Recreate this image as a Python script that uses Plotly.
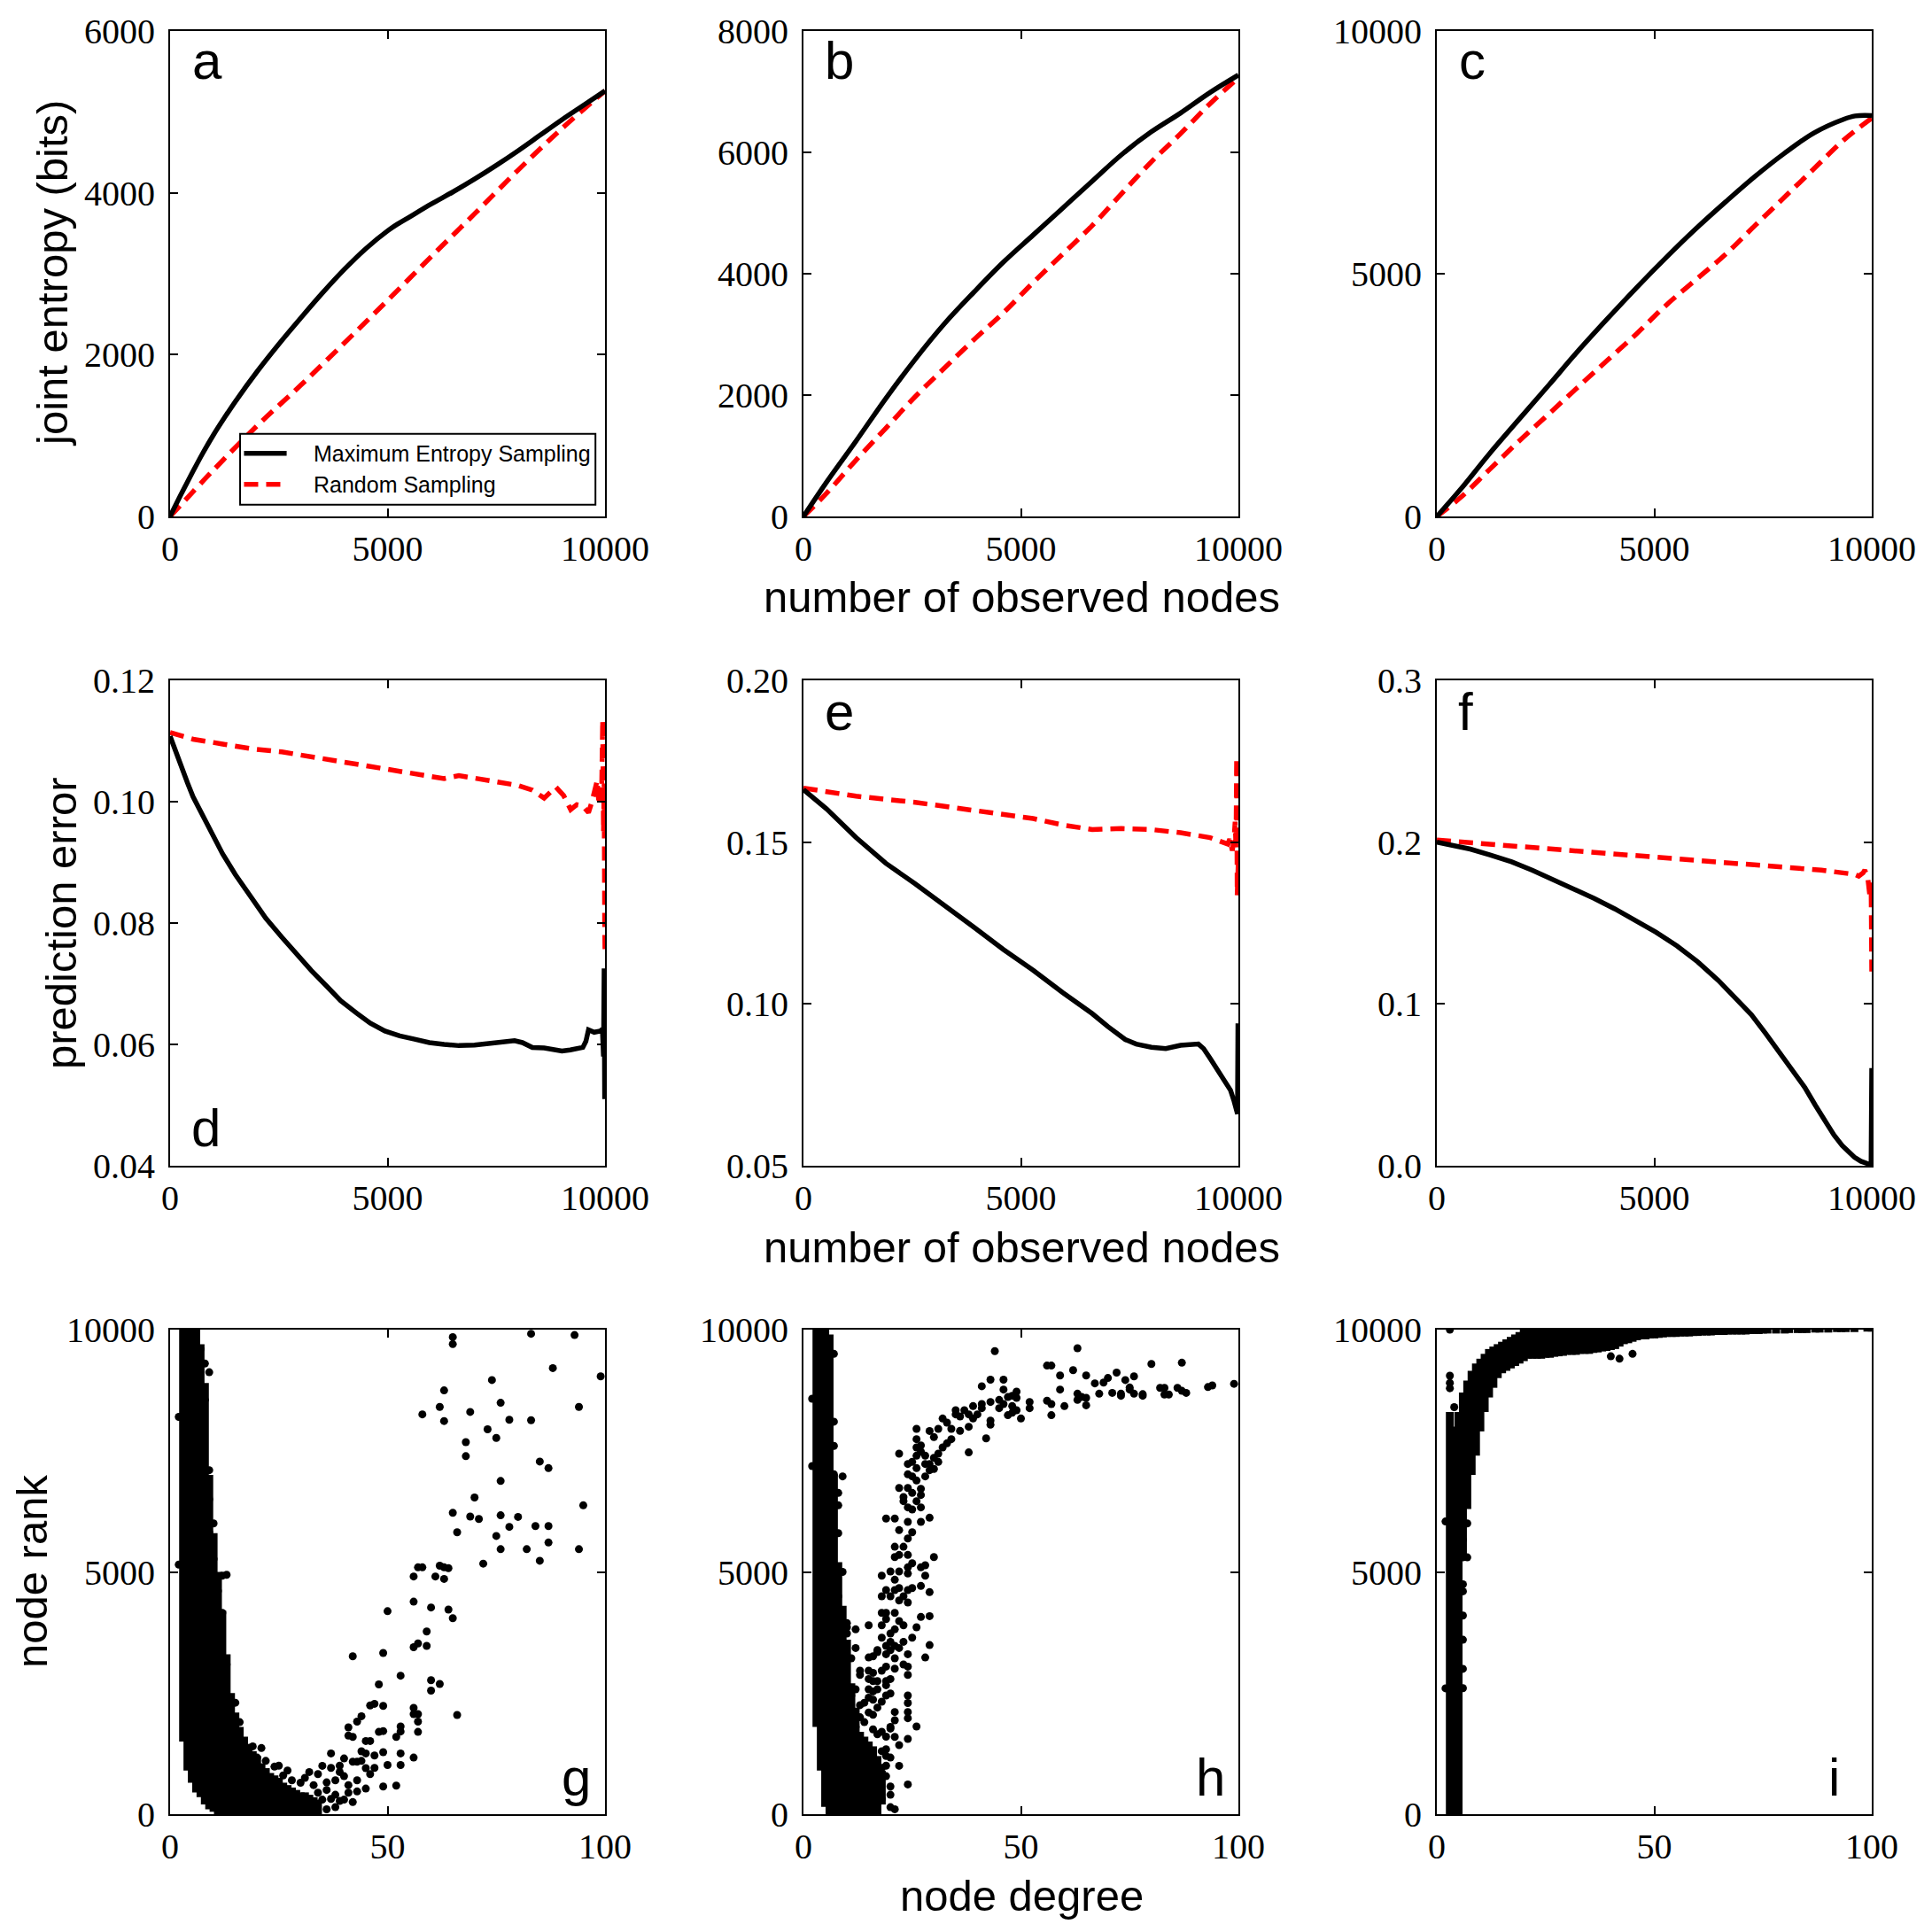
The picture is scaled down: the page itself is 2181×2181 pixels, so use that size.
import plotly.graph_objects as go

W = H = 2181

# ---------------- Panel a-c : joint entropy ----------------
a_max_x = [0, 250, 500, 750, 1000, 1250, 1500, 2000, 2500, 3000, 3500, 4000, 4500, 5000, 5250, 5500, 6000, 6500, 7000, 7500, 8000, 8500, 9000, 9500, 10000]
a_max_y = [0, 270, 530, 780, 1010, 1220, 1420, 1790, 2130, 2450, 2760, 3050, 3310, 3530, 3620, 3700, 3860, 4010, 4170, 4340, 4520, 4710, 4900, 5080, 5260]
a_rnd_x = [0, 1000, 2000, 3000, 4000, 5000, 6000, 7000, 8000, 9000, 10000]
a_rnd_y = [0, 575, 1120, 1620, 2140, 2670, 3210, 3740, 4280, 4790, 5260]

b_max_x = [0, 530, 1210, 1890, 2570, 3240, 3920, 4600, 5280, 5960, 6640, 7310, 7990, 8670, 9350, 10000]
b_max_y = [0, 564, 1243, 1940, 2590, 3175, 3697, 4193, 4637, 5081, 5525, 5960, 6334, 6648, 6987, 7274]
b_rnd_x = [0, 530, 1210, 1890, 2570, 3240, 3920, 4600, 5280, 5960, 6640, 7310, 7990, 8670, 9350, 10000]
b_rnd_y = [0, 381, 930, 1452, 1974, 2444, 2914, 3358, 3854, 4324, 4794, 5316, 5838, 6308, 6804, 7230]

c_max_x = [0, 530, 1210, 1890, 2570, 3240, 3920, 4600, 5280, 5960, 6640, 7310, 7990, 8670, 9350, 9620, 10000]
c_max_y = [0, 541, 1292, 2000, 2700, 3400, 4070, 4720, 5340, 5930, 6480, 7000, 7480, 7900, 8180, 8250, 8258]
c_rnd_x = [0, 530, 1210, 1890, 2570, 3240, 3920, 4600, 5280, 5960, 6640, 7310, 7990, 8670, 9350, 10000]
c_rnd_y = [0, 378, 965, 1552, 2107, 2661, 3216, 3770, 4358, 4879, 5401, 5988, 6575, 7162, 7749, 8206]

# ---------------- Panel d-f : prediction error ----------------
d_max_x = [0, 100, 258, 400, 529, 700, 868, 1000, 1208, 1500, 1886, 2200, 2565, 2900, 3243, 3600, 3922, 4300, 4600, 4940, 5280,
           5600, 5960, 6300, 6640, 7000, 7310, 7600, 7920, 8100, 8330, 8600, 9010, 9200, 9490, 9560, 9620, 9750, 9890, 9940, 9965, 9980, 9992, 10000]
d_max_y = [0.1108, 0.1088, 0.1056, 0.1031, 0.1008, 0.0984, 0.0961, 0.0942, 0.0914, 0.0880, 0.0840, 0.0808, 0.0777, 0.0749, 0.0722, 0.0696, 0.0672, 0.0651, 0.0635, 0.0622, 0.0614,
           0.0609, 0.0603, 0.0600, 0.0598, 0.0599, 0.0602, 0.0604, 0.0606, 0.0603, 0.0595, 0.0594, 0.0589, 0.0591, 0.0595, 0.0605, 0.0624, 0.0620, 0.0622, 0.0625, 0.0580, 0.0725, 0.0510, 0.0520]
d_rnd_x = [0, 530, 1210, 1890, 2570, 3240, 3920, 4600, 5280, 5960, 6300, 6640, 7310, 7990, 8330, 8600, 8870, 9050, 9210, 9350, 9490, 9620, 9700, 9820, 9860, 9890, 9920, 9946, 9965, 9980, 9992, 10000]
d_rnd_y = [0.1114, 0.1103, 0.1095, 0.1087, 0.1082, 0.1074, 0.1067, 0.1058, 0.1051, 0.1043, 0.1038, 0.1043, 0.1035, 0.1027, 0.1019, 0.1006, 0.1024, 0.1010, 0.0987, 0.0995, 0.0993, 0.0982, 0.1000, 0.1035, 0.0995, 0.1025, 0.1003, 0.1135, 0.0950, 0.1030, 0.0800, 0.0750]

e_max_x = [0, 530, 1210, 1890, 2570, 3240, 3920, 4600, 5280, 5960, 6640, 7000, 7180, 7400, 7650, 8000, 8330, 8670, 9080, 9200, 9350, 9480, 9620, 9820, 9900, 9960, 9980, 9990, 10000]
e_max_y = [0.1662, 0.1603, 0.1514, 0.1435, 0.1371, 0.1306, 0.1237, 0.1168, 0.1104, 0.1035, 0.0970, 0.0930, 0.0911, 0.0890, 0.0876, 0.0866, 0.0862, 0.0872, 0.0876, 0.0862, 0.0832, 0.0805, 0.0773, 0.0733, 0.0700, 0.0664, 0.0660, 0.0940, 0.0680]
e_rnd_x = [0, 1210, 2570, 3920, 5280, 5960, 6640, 7310, 7990, 8670, 9350, 9760, 9800, 9860, 9900, 9925, 9945, 9960, 9973, 10000]
e_rnd_y = [0.1667, 0.1642, 0.1623, 0.1598, 0.1573, 0.1553, 0.1539, 0.1542, 0.1539, 0.1529, 0.1514, 0.1494, 0.1510, 0.1474, 0.1510, 0.1563, 0.1480, 0.1761, 0.1336, 0.1450]

f_max_x = [0, 400, 770, 1240, 1720, 2200, 2670, 3140, 3620, 4090, 4570, 5040, 5520, 6000, 6470, 6850, 7230, 7560, 7890, 8180, 8460, 8700, 8940,
           9130, 9320, 9460, 9600, 9750, 9890, 9962, 9985, 10000]
f_max_y = [0.2000, 0.1980, 0.1957, 0.1920, 0.1878, 0.1826, 0.1771, 0.1712, 0.1652, 0.1588, 0.1519, 0.1443, 0.1359, 0.1260, 0.1146, 0.1045, 0.0934, 0.0818, 0.0697, 0.0590, 0.0484, 0.0375, 0.0271,
           0.0190, 0.0125, 0.0085, 0.0053, 0.0028, 0.0011, 0.0000, 0.0005, 0.0604]
f_rnd_x = [0, 1240, 3140, 5040, 6940, 8840, 9600, 9700, 9800, 9840, 9880, 9905, 9962, 9985, 10000]
f_rnd_y = [0.2013, 0.1987, 0.1947, 0.1907, 0.1867, 0.1827, 0.1801, 0.1790, 0.1810, 0.1827, 0.1800, 0.1787, 0.1654, 0.1750, 0.1200]

# ---------------- Panel g-i : node rank vs node degree ----------------
# dense parts: for each degree, the range of ranks densely covered by points
g_col_deg = [3, 4, 5, 6, 7, 8, 9, 10, 11, 12, 13, 14, 15, 16, 17, 18, 19, 20, 21, 22, 23, 24, 25, 26, 27, 28, 29, 30, 31, 32, 33, 34]
g_col_lo = [1500, 900, 650, 450, 350, 200, 100, 50, 0, 0, 0, 0, 0, 0, 0, 0, 0, 0, 0, 0, 0, 0, 0, 0, 0, 0, 0, 0, 0, 0, 0, 0]
g_col_hi = [10000, 10000, 10000, 10000, 9700, 8900, 7000, 5800, 5000, 4200, 3300, 2500, 2100, 1800, 1600, 1450, 1300, 1200, 1050, 950, 850, 800, 750, 650, 600, 550, 500, 450, 450, 400, 350, 300]
g_pt_deg = [65, 65, 83, 93, 88, 99, 74, 63, 62, 94, 76, 58, 69, 63, 78, 83, 73, 75, 68, 68, 85, 87, 76, 70, 95, 65, 69, 71, 76, 80,
            66, 78, 84, 87, 75, 76, 82, 87, 94, 85, 72, 57, 58, 62, 63, 64, 56, 61, 63, 56, 50, 60, 64, 65, 59, 56, 57, 59, 49, 42,
            53, 60, 62, 60, 48, 66, 46, 47, 49, 56, 56, 57, 57, 44, 43, 41, 42, 41, 53, 53, 52, 57, 48, 49, 46, 45, 44, 45, 47, 49,
            53, 56, 50, 53, 46, 47, 49, 52, 45, 41, 43, 43, 42, 43, 37, 35, 37, 39, 40, 38, 38, 39, 37, 36, 34, 32, 34, 24, 21, 17,
            18, 14, 13, 12, 13, 12, 11, 9, 8, 7, 9, 9, 9, 2, 2, 10, 11, 20, 40, 44, 45, 38, 36, 41, 39, 35, 33, 40, 42, 36,
            30, 28, 26, 31, 33, 27, 22, 25, 19, 16, 15, 10, 8, 7]
g_pt_rank = [9846, 9701, 9915, 9889, 9206, 9036, 8959, 8746, 8404, 8404, 8490, 8251, 8302, 8114, 8140, 8131, 7944, 7765, 7679, 7389, 7278, 7142, 6877, 6536, 6374, 6220, 6143, 6092, 6169, 6135,
             5819, 5930, 5947, 5947, 5742, 5469, 5469, 5606, 5469, 5230, 5171, 5094, 5094, 5128, 5094, 5077, 4906, 4906, 4855, 4386, 4189, 4266, 4224, 4044, 3771, 3447, 3524, 3473, 3328, 3259,
             2858, 2765, 2688, 2551, 2679, 2048, 2244, 2278, 2235, 2193, 2065, 2065, 1911, 2022, 1911, 1792, 1596, 1621, 1809, 1706, 1596, 1698, 1698, 1715, 1510, 1510, 1297, 1254, 1212, 1280,
             1254, 1169, 1015, 1015, 828, 956, 572, 589, 529, 444, 469, 700, 1084, 1084, 1254, 998, 956, 870, 785, 401, 145, 273, 316, 657, 828, 870, 444, 981, 1365, 1510,
             1254, 1937, 3089, 4923, 4940, 4155, 4608, 9121, 8550, 8420, 7100, 6500, 5820, 8200, 5150, 5265, 2278, 1169, 1150, 1100, 950, 700, 500, 600, 1000, 300, 200, 300, 250, 100,
             650, 700, 800, 750, 600, 900, 1100, 1000, 1400, 1900, 2300, 6000, 9300, 9600]

h_col_deg = [3, 4, 5, 6, 7, 8, 9, 10, 11, 12, 13, 14, 15, 16, 17, 18]
h_col_lo = [1800, 900, 150, 0, 0, 0, 0, 0, 0, 0, 0, 0, 0, 0, 0, 200]
h_col_hi = [10000, 10000, 10000, 9900, 7000, 5200, 4300, 3600, 2700, 2200, 1700, 1600, 1500, 1400, 1200, 900]
h_pt_deg = [44, 63, 87, 80, 57, 56, 62, 65, 72, 76, 59, 46, 43, 41, 74, 70, 67, 69, 99, 94, 93, 82, 83, 86, 87, 88, 78, 76, 73, 71,
            68, 59, 56, 57, 63, 63, 64, 65, 65, 60, 83, 84, 78, 75, 73, 75, 52, 52, 48, 49, 48, 46, 47, 45, 45, 43, 41, 41, 46, 49,
            50, 57, 49, 47, 48, 43, 43, 39, 37, 38, 39, 40, 35, 35, 36, 32, 33, 34, 31, 29, 30, 38, 36, 42, 38, 34, 33, 32, 31, 30,
            29, 28, 27, 27, 31, 30, 29, 28, 26, 26, 26, 26, 25, 26, 25, 26, 27, 27, 28, 24, 24, 22, 24, 22, 25, 26, 27, 25, 24, 23,
            23, 29, 27, 21, 19, 24, 22, 25, 24, 23, 21, 22, 24, 25, 21, 30, 28, 27, 24, 22, 20, 18, 21, 24, 28, 27, 25, 24, 22, 21,
            19, 23, 24, 22, 20, 18, 29, 29, 27, 26, 23, 22, 21, 19, 18, 19, 18, 21, 20, 18, 20, 19, 21, 23, 25, 29, 28, 24, 22, 20,
            19, 17, 16, 15, 12, 12, 15, 17, 21, 23, 21, 19, 18, 16, 15, 13, 13, 11, 24, 24, 20, 19, 17, 16, 15, 19, 17, 16, 15, 12,
            20, 19, 18, 16, 15, 11, 24, 24, 24, 24, 21, 21, 20, 21, 24, 26, 22, 19, 20, 22, 24, 18, 19, 20, 20, 20, 21, 18, 17, 17,
            2, 2, 7, 9, 8, 8, 8, 10, 10, 10, 7, 7, 8, 9, 7,
            12, 13, 14, 15, 16, 17, 18, 19, 20, 18, 19, 17, 14, 19, 16, 13]
h_pt_rank = [9556, 9616, 9317, 9292, 9258, 9258, 9164, 9053, 9113, 9036, 9053, 8968, 8968, 8831, 8959, 9002, 8891, 8908, 8882, 8848, 8814, 8797, 8797, 8797, 8737, 8695, 8669, 8677, 8677, 8695,
             8677, 8763, 8532, 8464, 8677, 8549, 8609, 8592, 8438, 8422, 8660, 8660, 8635, 8763, 8635, 8805, 8507, 8379, 8635, 8592, 8422, 8464, 8609, 8549, 8379, 8507, 8464, 8379, 8763, 8720,
             8166, 8234, 8336, 8234, 8285, 8038, 8123, 8422, 8336, 8251, 8166, 8251, 8251, 8336, 8208, 8166, 8080, 7952, 7952, 7909, 7782, 7995, 7910, 7756, 7466, 7739, 7654, 7568, 7440, 7355,
             7227, 7398, 7611, 7483, 7270, 7125, 7099, 7227, 7952, 7739, 7568, 7398, 7270, 7142, 6971, 6886, 6715, 6587, 6971, 7227, 7014, 7440, 6732, 6732, 6630, 6459, 6331, 6288, 6331, 6459,
             6544, 6118, 6032, 6101, 6101, 6032, 5862, 5819, 5691, 5520, 5520, 5350, 5350, 5179, 5307, 5307, 5137, 5094, 5094, 5009, 5009, 4923, 4838, 4966, 4923, 4710, 4667, 4625, 4667, 4625,
             4625, 4497, 4369, 4411, 4497, 4497, 4582, 4087, 4070, 3857, 3899, 3985, 4155, 4155, 4155, 4027, 3899, 3814, 3729, 3643, 3558, 3473, 3473, 3558, 3643, 3490, 3234, 3302, 3430, 3387,
             3302, 3345, 3259, 3234, 3430, 3814, 3899, 3387, 3217, 3089, 3003, 3046, 2961, 2918, 2961, 2875, 2961, 3217, 3046, 2875, 2790, 2747, 2747, 2747, 2790, 2662, 2577, 2534, 2577, 2577,
             2491, 2449, 2321, 2363, 2406, 2449, 2449, 2295, 2108, 1980, 2108, 1937, 1766, 1596, 1553, 1809, 1425, 1340, 1169, 998, 614, 956, 785, 572, 401, 145, 102, 316, 188, 401,
             8575, 7185, 7014, 6971, 6630, 6374, 4497, 3942, 3857, 3729, 8100, 7600, 5800, 5000, 9500,
             1800, 2000, 1900, 2100, 1750, 1650, 1700, 1600, 1800, 1300, 1200, 2200, 2300, 1000, 2050, 2250]

i_col_deg = [3, 4, 5, 6, 7, 8, 9, 10, 11, 12, 13, 14, 15, 16, 17, 18, 19, 20,
             21, 22, 23, 24, 25, 26, 27, 28, 29, 30, 31, 32, 33, 34, 35, 36, 37, 38, 39, 40,
             41, 42, 43, 44, 45, 46, 47, 48, 49, 50, 51, 52, 53, 54, 55, 56, 57, 58, 59, 60,
             61, 62, 63, 64, 65, 66, 67, 68, 69, 70, 71, 72, 73, 74, 75, 76, 78, 80, 81, 83,
             84, 85, 87, 88, 90, 92, 93, 94, 96, 99, 100]
i_col_lo = [0, 0, 0, 5300, 6300, 7000, 7400, 7900, 8300, 8600, 8800, 9000, 9100, 9150, 9200, 9250, 9300, 9350,
            9400, 9400, 9400, 9400, 9420, 9420, 9440, 9450, 9460, 9480, 9480, 9480, 9500, 9500, 9500, 9520, 9530, 9550, 9560, 9580,
            9600, 9650, 9700, 9720, 9750, 9780, 9800, 9800, 9820, 9820, 9830, 9840, 9850, 9850, 9850, 9860, 9860, 9860, 9870, 9870,
            9880, 9880, 9880, 9890, 9890, 9890, 9900, 9900, 9900, 9900, 9900, 9910, 9910, 9910, 9920, 9920, 9920, 9920, 9930, 9930,
            9930, 9930, 9940, 9940, 9940, 9950, 9950, 9950, 9950, 9960, 9960]
i_col_hi = [8300, 8000, 8300, 8700, 8950, 9150, 9300, 9400, 9500, 9600, 9650, 9700, 9750, 9800, 9850, 9900, 9950, 10000,
            10000, 10000, 10000, 10000, 10000, 10000, 10000, 10000, 10000, 10000, 10000, 10000, 10000, 10000, 10000, 10000, 10000, 10000, 10000, 10000,
            10000, 10000, 10000, 10000, 10000, 10000, 10000, 10000, 10000, 10000, 10000, 10000, 10000, 10000, 10000, 10000, 10000, 10000, 10000, 10000,
            10000, 10000, 10000, 10000, 10000, 10000, 10000, 10000, 10000, 10000, 10000, 10000, 10000, 10000, 10000, 10000, 10000, 10000, 10000, 10000,
            10000, 10000, 10000, 10000, 10000, 10000, 10000, 10000, 10000, 10000, 10000]
i_pt_deg = [2, 2, 3, 3, 3, 3, 4, 6, 6, 6, 6, 6, 6, 6, 7, 7, 6, 40, 42, 45]
i_pt_rank = [6040, 2598, 10000, 9050, 8790, 8900, 8400, 5664, 5300, 4744, 4600, 4100, 3600, 3000, 5300, 6000, 2600, 9450, 9400, 9500]

legend_names = ["Maximum Entropy Sampling", "Random Sampling"]
panel_letters = ["a", "b", "c", "d", "e", "f", "g", "h", "i"]
y_titles = ["joint entropy (bits)", "prediction error", "node rank"]
x_titles = ["number of observed nodes", "number of observed nodes", "node degree"]

# ---------------- layout geometry (pixels) ----------------
col_px = [(192, 683), (907, 1398), (1622, 2113)]
row_px = [(35, 583), (768, 1316), (1501, 2048)]

SERIF = "Liberation Serif"
SANS = "Liberation Sans"
LW = 5.5
RED = "#ff0000"
RED_DASH = "16px,9px"

fig = go.Figure()


def ax_name(k):
    return "" if k == 1 else str(k)


def add_curve(k, x, y, color, dash, name, shape):
    fig.add_trace(go.Scatter(
        x=x, y=y, mode="lines", name=name, showlegend=False,
        xaxis="x" + ax_name(k), yaxis="y" + ax_name(k),
        line=dict(color=color, width=LW, dash=dash, shape=shape)))


def add_columns(k, deg, lo, hi):
    xs, ys = [], []
    for d, l, h in zip(deg, lo, hi):
        xs += [d, d, None]
        ys += [l, h, None]
    fig.add_trace(go.Scatter(
        x=xs, y=ys, mode="lines", showlegend=False,
        xaxis="x" + ax_name(k), yaxis="y" + ax_name(k),
        line=dict(color="black", width=9)))


def add_points(k, x, y):
    fig.add_trace(go.Scatter(
        x=x, y=y, mode="markers", showlegend=False,
        xaxis="x" + ax_name(k), yaxis="y" + ax_name(k),
        marker=dict(color="black", size=9, line=dict(width=0))))


curves = [
    (a_max_x, a_max_y, a_rnd_x, a_rnd_y),
    (b_max_x, b_max_y, b_rnd_x, b_rnd_y),
    (c_max_x, c_max_y, c_rnd_x, c_rnd_y),
    (d_max_x, d_max_y, d_rnd_x, d_rnd_y),
    (e_max_x, e_max_y, e_rnd_x, e_rnd_y),
    (f_max_x, f_max_y, f_rnd_x, f_rnd_y),
]
for k, (mx, my, rx, ry) in enumerate(curves, start=1):
    shape = "spline" if k <= 3 else "linear"
    add_curve(k, rx, ry, RED, RED_DASH, legend_names[1], shape)
    add_curve(k, mx, my, "black", "solid", legend_names[0], shape)

add_columns(7, g_col_deg, g_col_lo, g_col_hi)
add_points(7, g_pt_deg, g_pt_rank)
add_columns(8, h_col_deg, h_col_lo, h_col_hi)
add_points(8, h_pt_deg, h_pt_rank)
add_columns(9, i_col_deg, i_col_lo, i_col_hi)
add_points(9, i_pt_deg, i_pt_rank)

y_specs = [
    ([0, 6000], [0, 2000, 4000, 6000], ["0", "2000", "4000", "6000"]),
    ([0, 8000], [0, 2000, 4000, 6000, 8000], ["0", "2000", "4000", "6000", "8000"]),
    ([0, 10000], [0, 5000, 10000], ["0", "5000", "10000"]),
    ([0.04, 0.12], [0.04, 0.06, 0.08, 0.10, 0.12], ["0.04", "0.06", "0.08", "0.10", "0.12"]),
    ([0.05, 0.20], [0.05, 0.10, 0.15, 0.20], ["0.05", "0.10", "0.15", "0.20"]),
    ([0.0, 0.3], [0.0, 0.1, 0.2, 0.3], ["0.0", "0.1", "0.2", "0.3"]),
    ([0, 10000], [0, 5000, 10000], ["0", "5000", "10000"]),
    ([0, 10000], [0, 5000, 10000], ["0", "5000", "10000"]),
    ([0, 10000], [0, 5000, 10000], ["0", "5000", "10000"]),
]

layout = dict(
    template="none",
    width=W, height=H, margin=dict(l=0, r=0, t=0, b=0, autoexpand=False),
    paper_bgcolor="white", plot_bgcolor="white",
    showlegend=False,
)

annotations = []
shapes = []
for k in range(1, 10):
    r, c = (k - 1) // 3, (k - 1) % 3
    x0, x1 = col_px[c]
    y0, y1 = row_px[r]
    yr, yt, ytxt = y_specs[k - 1]
    common = dict(
        showline=True, linecolor="black", linewidth=2, mirror="ticks",
        ticks="inside", ticklen=9, tickwidth=1.5, tickcolor="black",
        showgrid=False, zeroline=False, automargin=False,
        tickfont=dict(family=SERIF, size=40, color="black"),
    )
    if r == 2:
        xr, xt, xtxt = [0, 100], [0, 50, 100], ["0", "50", "100"]
    else:
        xr, xt, xtxt = [0, 10000], [0, 5000, 10000], ["0", "5000", "10000"]
    layout["xaxis" + ax_name(k)] = dict(
        common, domain=[x0 / W, x1 / W], range=xr, tickvals=xt, ticktext=xtxt,
        anchor="y" + ax_name(k), ticklabelstandoff=0)
    layout["yaxis" + ax_name(k)] = dict(
        common, domain=[1 - y1 / H, 1 - y0 / H], range=yr, tickvals=yt, ticktext=ytxt,
        anchor="x" + ax_name(k), ticklabelstandoff=7)

# legend box in panel a (drawn in panel-a domain coordinates)
leg_box = dict(x0=0.161, x1=0.978, y0=0.024, y1=0.170)
shapes.append(dict(type="rect", xref="x domain", yref="y domain", **leg_box,
                   line=dict(color="black", width=2), fillcolor="white", layer="above"))
leg_rows = [(0.130, "black", "solid", legend_names[0]), (0.066, RED, RED_DASH, legend_names[1])]
for ly, colr, dsh, nm in leg_rows:
    shapes.append(dict(type="line", xref="x domain", yref="y domain", x0=0.170, x1=0.268, y0=ly, y1=ly,
                       line=dict(color=colr, width=LW, dash=dsh), layer="above"))
    annotations.append(dict(text=nm, xref="x domain", yref="y domain", x=0.326, y=ly,
                            xanchor="left", yanchor="middle", showarrow=False,
                            font=dict(family=SANS, size=25, color="black")))

# panel letters
letter_pos = {
    "a": (0.0855, 0.938), "b": (0.0815, 0.938), "c": (0.0815, 0.938),
    "d": (0.082, 0.078), "e": (0.0815, 0.936), "f": (0.067, 0.936),
    "g": (0.933, 0.075), "h": (0.935, 0.075), "i": (0.914, 0.075),
}
for k, L in enumerate(panel_letters, start=1):
    lx, ly = letter_pos[L]
    annotations.append(dict(
        text=L, x=lx, y=ly, xref="x" + ax_name(k) + " domain", yref="y" + ax_name(k) + " domain",
        xanchor="center", yanchor="middle", showarrow=False,
        font=dict(family=SANS, size=60, color="black")))

# axis titles
y_title_pos = [(59, 309), (69, 1042), (36, 1774)]
for t, (px, py) in zip(y_titles, y_title_pos):
    annotations.append(dict(
        text=t, x=px / W, y=1 - py / H, xref="paper", yref="paper",
        xanchor="center", yanchor="middle", textangle=-90, showarrow=False,
        font=dict(family=SANS, size=49, color="black")))
x_title_pos = [(1153, 674), (1153, 1408), (1153, 2140)]
for t, (px, py) in zip(x_titles, x_title_pos):
    annotations.append(dict(
        text=t, x=px / W, y=1 - py / H, xref="paper", yref="paper",
        xanchor="center", yanchor="middle", showarrow=False,
        font=dict(family=SANS, size=49, color="black")))

layout["annotations"] = annotations
layout["shapes"] = shapes
fig.update_layout(**layout)
fig.write_html("out.html")
